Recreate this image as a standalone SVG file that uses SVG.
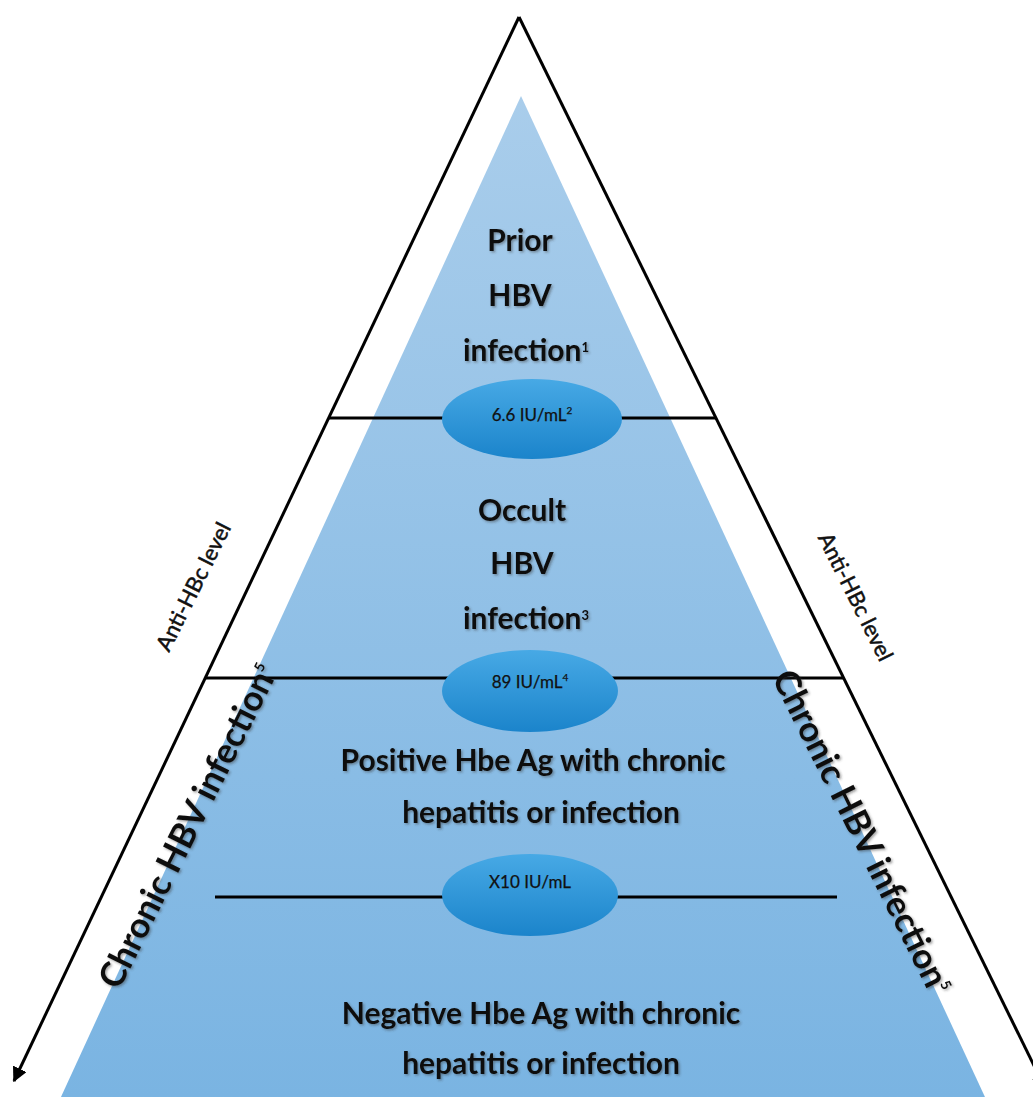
<svg xmlns="http://www.w3.org/2000/svg" width="1033" height="1097" viewBox="0 0 1033 1097">
<defs>
<linearGradient id="pyr" x1="0" y1="96" x2="0" y2="1097" gradientUnits="userSpaceOnUse">
<stop offset="0" stop-color="#a9cdeb"/>
<stop offset="1" stop-color="#7ab4e2"/>
</linearGradient>
<linearGradient id="ell" x1="0" y1="0" x2="0" y2="1">
<stop offset="0" stop-color="#47a9e5"/>
<stop offset="1" stop-color="#1b84cb"/>
</linearGradient>
<filter id="sh" x="-10%" y="-30%" width="120%" height="160%">
<feDropShadow dx="1.5" dy="1.5" stdDeviation="1" flood-color="#333" flood-opacity="0.45"/>
</filter>
<marker id="arr" viewBox="0 0 10 10" refX="9" refY="5" markerWidth="5" markerHeight="5" orient="auto" markerUnits="strokeWidth">
<path d="M0,0 L10,5 L0,10 z" fill="#000"/>
</marker>
<style>
.big{font-family:Lato,"Liberation Sans",sans-serif;font-weight:700;font-size:30px;fill:#111;text-anchor:middle}
.val{font-family:Lato,"Liberation Sans",sans-serif;font-size:17px;fill:#111;stroke:#111;stroke-width:0.25;text-anchor:middle}
.side{font-family:Lato,"Liberation Sans",sans-serif;font-size:22px;fill:#111;stroke:#111;stroke-width:0.5;text-anchor:middle}
.chr{font-family:Lato,"Liberation Sans",sans-serif;font-weight:700;font-size:35px;fill:#111;text-anchor:middle}
.ln{stroke:#000;stroke-width:3;fill:none}
.ov{fill:url(#ell)}
</style>
</defs>
<rect width="1033" height="1097" fill="#fff"/>
<g id="pyramid">
<polygon points="521,96 55,1110 991,1110" fill="url(#pyr)"/>
</g>
<g id="connectors">
<line class="ln" x1="519" y1="17" x2="14" y2="1081" marker-end="url(#arr)"/>
<line class="ln" x1="519" y1="17" x2="1045" y2="1088" marker-end="url(#arr)"/>
<line class="ln" x1="329" y1="418" x2="716" y2="418"/>
<line class="ln" x1="205" y1="678" x2="844" y2="678"/>
<line class="ln" x1="215" y1="897" x2="837" y2="897"/>
</g>
<g id="prior" filter="url(#sh)">
<text class="big" x="520" y="251">Prior</text>
<text class="big" x="520" y="306">HBV</text>
<text class="big" x="526" y="361">infection<tspan font-size="13" dy="-9">1</tspan></text>
</g>
<g id="threshold1">
<ellipse class="ov" cx="532" cy="419" rx="90" ry="40"/>
<text class="val" x="532" y="421">6.6 IU/mL<tspan font-size="10" dy="-7">2</tspan></text>
</g>
<g id="occult" filter="url(#sh)">
<text class="big" x="522" y="521">Occult</text>
<text class="big" x="522" y="574">HBV</text>
<text class="big" x="526" y="629">infection<tspan font-size="13" dy="-9">3</tspan></text>
</g>
<g id="threshold2">
<ellipse class="ov" cx="530" cy="691" rx="88" ry="41"/>
<text class="val" x="530" y="688">89 IU/mL<tspan font-size="10" dy="-7">4</tspan></text>
</g>
<g id="positive" filter="url(#sh)">
<text class="big" x="533" y="771">Positive Hbe Ag with chronic</text>
<text class="big" x="541" y="823">hepatitis or infection</text>
</g>
<g id="threshold3">
<ellipse class="ov" cx="530" cy="895" rx="88" ry="41"/>
<text class="val" x="530" y="888">X10 IU/mL</text>
</g>
<g id="negative" filter="url(#sh)">
<text class="big" x="541" y="1024">Negative Hbe Ag with chronic</text>
<text class="big" x="541" y="1074">hepatitis or infection</text>
</g>
<g id="anti-left">
<text class="side" transform="translate(194,587) rotate(-63.5)" y="7">Anti-HBc level</text>
</g>
<g id="anti-right">
<text class="side" transform="translate(855,597) rotate(63.5)" y="7">Anti-HBc level</text>
</g>
<g id="chronic-left" filter="url(#sh)">
<text class="chr" transform="translate(188,826) rotate(-63.5)" y="12">Chronic HBV infection<tspan font-size="14" dy="-14">5</tspan></text>
</g>
<g id="chronic-right" filter="url(#sh)">
<text class="chr" transform="translate(862,832) rotate(63.5)" y="12">Chronic HBV infection<tspan font-size="14" dy="-14">5</tspan></text>
</g>
</svg>
